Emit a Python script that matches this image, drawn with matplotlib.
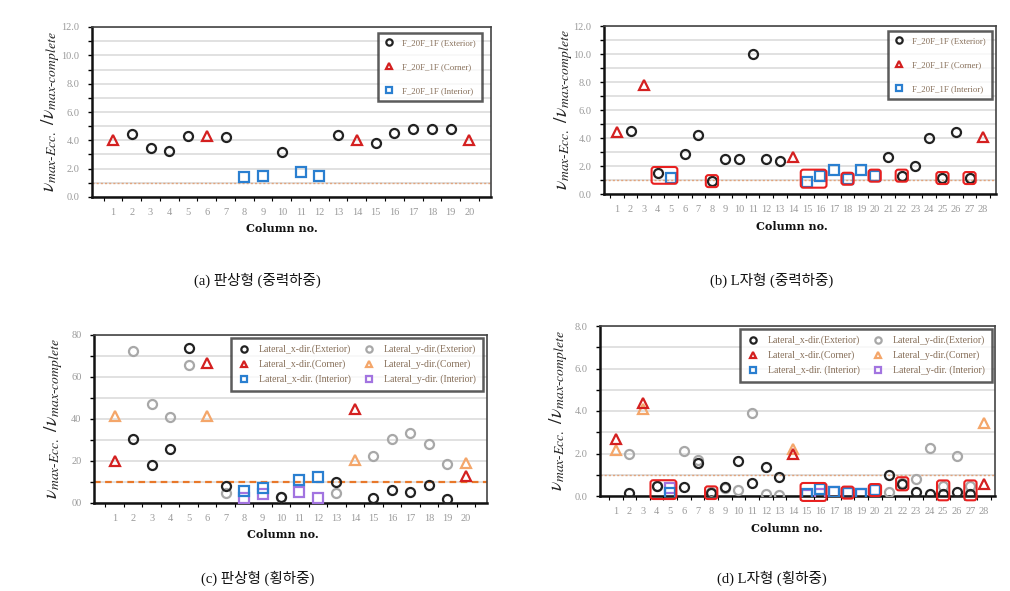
import matplotlib.pyplot as plt
from matplotlib.patches import FancyBboxPatch
from matplotlib.ticker import MultipleLocator, FuncFormatter

plt.rcParams['mathtext.fontset'] = 'stix'

# ---- (a) flat type, gravity load ----
a_cols = list(range(1, 21))
a_ext_x = [2, 3, 4, 5, 7, 10, 13, 15, 16, 17, 18, 19]
a_ext_y = [4.46, 3.46, 3.22, 4.32, 4.27, 3.15, 4.41, 3.79, 4.5, 4.77, 4.77, 4.81]
a_cor_x = [1, 6, 14, 20]
a_cor_y = [4.0, 4.3, 4.0, 4.05]
a_int_x = [8, 9, 11, 12]
a_int_y = [1.38, 1.5, 1.75, 1.5]

# ---- (b) L type, gravity load ----
b_cols = list(range(1, 29))
b_ext_x = [2, 4, 6, 7, 8, 9, 10, 11, 12, 13, 21, 22, 23, 24, 25, 26, 27]
b_ext_y = [4.49, 1.5, 2.85, 4.2, 0.92, 2.5, 2.5, 10.0, 2.47, 2.38, 2.66, 1.31, 2.0, 4.02, 1.14, 4.44, 1.14]
b_cor_x = [1, 3, 14, 28]
b_cor_y = [4.4, 7.8, 2.66, 4.05]
b_int_x = [5, 15, 16, 17, 18, 19, 20]
b_int_y = [1.16, 0.88, 1.31, 1.71, 1.09, 1.73, 1.31]

# ---- (c) flat type, lateral load ----
c_ext_x = [2, 3, 4, 5, 7, 10, 13, 15, 16, 17, 18, 19]
c_xext_y = [3.06, 1.79, 2.58, 7.37, 0.79, 0.27, 1.01, 0.24, 0.63, 0.52, 0.87, 0.19]
c_yext_y = [7.24, 4.72, 4.1, 6.56, 0.48, 0.3, 0.48, 2.25, 3.07, 3.34, 2.79, 1.84]
c_cor_x = [1, 6, 14, 20]
c_xcor_y = [2.0, 6.69, 4.5, 1.27]
c_ycor_y = [4.12, 4.12, 2.06, 1.9]
c_int_x = [8, 9, 11, 12]
c_xint_y = [0.57, 0.71, 1.11, 1.24]
c_yint_y = [0.24, 0.43, 0.54, 0.22]

# ---- (d) L type, lateral load ----
d_ext_x = [2, 4, 6, 7, 8, 9, 10, 11, 12, 13, 21, 22, 23, 24, 25, 26, 27]
d_xext_y = [0.14, 0.46, 0.42, 1.55, 0.14, 0.42, 1.63, 0.61, 1.35, 0.9, 0.97, 0.55, 0.2, 0.08, 0.08, 0.2, 0.08]
d_yext_y = [1.99, 0.45, 2.1, 1.68, 0.17, 0.38, 0.3, 3.9, 0.08, 0.05, 0.19, 0.6, 0.8, 2.28, 0.45, 1.9, 0.45]
d_cor_x = [1, 3, 14, 28]
d_xcor_y = [2.68, 4.38, 1.96, 0.55]
d_ycor_y = [2.18, 4.08, 2.23, 3.45]
d_int_x = [5, 15, 16, 17, 18, 19, 20]
d_xint_y = [0.14, 0.1, 0.33, 0.2, 0.16, 0.08, 0.28]
d_yint_y = [0.4, 0.05, 0.1, 0.17, 0.16, 0.1, 0.28]

# column groups marked with red boxes in the L type plots
highlight_groups = [(4, 5), (8, 8), (15, 16), (18, 18), (20, 20), (22, 22), (25, 25), (27, 27)]

grav_labels = ['F_20F_1F (Exterior)', 'F_20F_1F (Corner)', 'F_20F_1F (Interior)']
lat_labels = ['Lateral_x-dir.(Exterior)', 'Lateral_x-dir.(Corner)', 'Lateral_x-dir. (Interior)',
              'Lateral_y-dir.(Exterior)', 'Lateral_y-dir.(Corner)', 'Lateral_y-dir. (Interior)']
captions = ['(a) 판상형 (중력하중)', '(b) L자형 (중력하중)', '(c) 판상형 (횡하중)', '(d) L자형 (횡하중)']
ylabel = r'$\nu_{max\text{-}Ecc.}\ /\nu_{max\text{-}complete}$'

BLACK = '#222222'
GREY = '#a8a8a8'
RED = '#d42020'
ORANGE = '#f4a66a'
BLUE = '#2a7fd0'
PURPLE = '#a274e0'
TXT = '#866e58'

W, H = 1010, 591
fig = plt.figure(figsize=(W / 100, H / 100), dpi=100)


def setup(rect, ncols, ymax, fmt, ref_style):
    ax = fig.add_axes([rect[0] / W, 1 - rect[3] / H, (rect[2] - rect[0]) / W, (rect[3] - rect[1]) / H])
    ax.set_xlim(rect[4], rect[5])
    ax.set_ylim(0, ymax)
    ax.set_xticks(range(1, ncols + 1))
    ax.set_xticks([i + 0.5 for i in range(0, ncols + 1)], minor=True)
    ax.tick_params(axis='x', which='major', length=0, pad=8, labelsize=7.5, labelcolor='#9a9a9a')
    ax.tick_params(axis='x', which='minor', length=3, width=0.8, direction='out')
    ax.yaxis.set_major_locator(MultipleLocator(2))
    ax.yaxis.set_minor_locator(MultipleLocator(1))
    ax.yaxis.set_major_formatter(FuncFormatter(fmt))
    ax.tick_params(axis='y', which='both', length=3, width=1, direction='out', pad=6,
                   labelsize=7.5, labelcolor='#9a9a9a')
    for lab in ax.get_xticklabels() + ax.get_yticklabels():
        lab.set_family('Liberation Serif')
    ax.grid(True, which='both', axis='y', color='#dcdcdc', lw=1.2)
    ax.set_axisbelow(True)
    for s in ['left', 'bottom']:
        ax.spines[s].set_linewidth(1.8)
        ax.spines[s].set_color('#111111')
    for s in ['top', 'right']:
        ax.spines[s].set_linewidth(1.2)
        ax.spines[s].set_color('#444444')
    ax.axhline(1.0, **ref_style, zorder=1.5)
    ax.set_ylabel(ylabel, fontsize=14, color='#222222')
    ax.yaxis.set_label_coords(-0.075, 0.5)
    return ax


def sc(ax, x, y, marker, color, label, ms=6.5):
    return ax.plot(x, y, linestyle='none', marker=marker, ms=ms, mfc='none', mec=color,
                   mew=1.6, label=label, zorder=3)[0]


def legend(ax, handles, ncol, right_px, top_px, w_px, h_px, spacing, fs):
    lg = ax.legend(handles=handles, ncol=ncol, loc='upper right',
                   bbox_to_anchor=(1 - right_px / w_px, 1 - top_px / h_px), borderaxespad=0,
                   fontsize=fs, markerscale=0.7, frameon=True, fancybox=False,
                   labelspacing=spacing, handletextpad=0.9, columnspacing=1.3,
                   handlelength=1.2, borderpad=0.7)
    lg.get_frame().set_edgecolor('#333333')
    lg.get_frame().set_linewidth(1.8)
    for t in lg.get_texts():
        t.set_color(TXT)
        t.set_family('Liberation Serif')
    lg.set_zorder(6)


def boxes(ax, series, pad_px=6):
    x0, x1 = ax.get_xlim()
    y0, y1 = ax.get_ylim()
    bb = ax.get_position()
    wpx, hpx = bb.width * W, bb.height * H
    py = pad_px * (y1 - y0) / hpx
    asp = ((y1 - y0) / hpx) / ((x1 - x0) / wpx)
    for c0, c1 in highlight_groups:
        vals = [yy for xs, ys in series for xx, yy in zip(xs, ys) if c0 <= xx <= c1]
        lo, hi = min(vals) - py, max(vals) + py
        p = FancyBboxPatch((c0 - 0.45, lo), c1 - c0 + 0.9, hi - lo,
                           boxstyle='round,pad=0,rounding_size=0.2', mutation_aspect=asp,
                           ec='#e82020', fc='none', lw=1.5, clip_on=False, zorder=5)
        ax.add_patch(p)


dotted = dict(color='#e2a47c', lw=1.0, ls=(0, (1.5, 1.5)))
dashed = dict(color='#e8782a', lw=1.6, ls=(0, (3, 2)))
fmt1 = lambda v, p: f'{v:.1f}'
fmt_c = lambda v, p: f'{v:.1f}'.replace('.', '')

# (a)
ax = setup((92, 27, 491, 197, -0.12, 21.15), 20, 12, fmt1, dotted)
h = [sc(ax, a_ext_x, a_ext_y, 'o', BLACK, grav_labels[0]),
     sc(ax, a_cor_x, a_cor_y, '^', RED, grav_labels[1]),
     sc(ax, a_int_x, a_int_y, 's', BLUE, grav_labels[2])]
legend(ax, h, 1, 9, 6, 399, 170, 1.8, 6.3)

# (b)
ax = setup((604, 26, 996, 194, 0.04, 28.95), 28, 12, fmt1, dotted)
h = [sc(ax, b_ext_x, b_ext_y, 'o', BLACK, grav_labels[0]),
     sc(ax, b_cor_x, b_cor_y, '^', RED, grav_labels[1]),
     sc(ax, b_int_x, b_int_y, 's', BLUE, grav_labels[2])]
legend(ax, h, 1, 4, 5, 392, 168, 1.8, 6.3)
boxes(ax, [(b_ext_x, b_ext_y), (b_cor_x, b_cor_y), (b_int_x, b_int_y)])

# (c)
ax = setup((94, 335, 487, 503, -0.12, 21.15), 20, 8, fmt_c, dashed)
h = [sc(ax, c_ext_x, c_yext_y, 'o', GREY, lat_labels[3]),
     sc(ax, c_cor_x, c_ycor_y, '^', ORANGE, lat_labels[4]),
     sc(ax, c_int_x, c_yint_y, 's', PURPLE, lat_labels[5]),
     sc(ax, c_ext_x, c_xext_y, 'o', BLACK, lat_labels[0]),
     sc(ax, c_cor_x, c_xcor_y, '^', RED, lat_labels[1]),
     sc(ax, c_int_x, c_xint_y, 's', BLUE, lat_labels[2])]
legend(ax, h[3:] + h[:3], 2, 4, 3, 393, 168, 0.55, 7.0)

# (d)
ax = setup((600, 326, 995, 496, -0.15, 28.8), 28, 8, fmt1, dotted)
h = [sc(ax, d_ext_x, d_yext_y, 'o', GREY, lat_labels[3]),
     sc(ax, d_cor_x, d_ycor_y, '^', ORANGE, lat_labels[4]),
     sc(ax, d_int_x, d_yint_y, 's', PURPLE, lat_labels[5]),
     sc(ax, d_ext_x, d_xext_y, 'o', BLACK, lat_labels[0]),
     sc(ax, d_cor_x, d_xcor_y, '^', RED, lat_labels[1]),
     sc(ax, d_int_x, d_xint_y, 's', BLUE, lat_labels[2])]
legend(ax, h[3:] + h[:3], 2, 3, 3, 395, 170, 0.55, 7.0)
boxes(ax, [(d_ext_x, d_xext_y), (d_ext_x, d_yext_y), (d_cor_x, d_xcor_y), (d_cor_x, d_ycor_y),
           (d_int_x, d_xint_y), (d_int_x, d_yint_y)])

# x axis titles and captions
for x, y in [(282, 228), (792, 226), (283, 535), (787, 528)]:
    fig.text(x / W, 1 - y / H, 'Column no.', ha='center', va='center', fontsize=8,
             fontweight='bold', family='DejaVu Serif', color='#111111')
for (x, y), cap in zip([(257, 280), (772, 280), (258, 578), (772, 578)], captions):
    fig.text(x / W, 1 - y / H, cap, ha='center', va='center', fontsize=10.5,
             family=['Liberation Serif', 'Noto Sans CJK KR'], color='#111111')

fig.savefig('out.png', dpi=100)
